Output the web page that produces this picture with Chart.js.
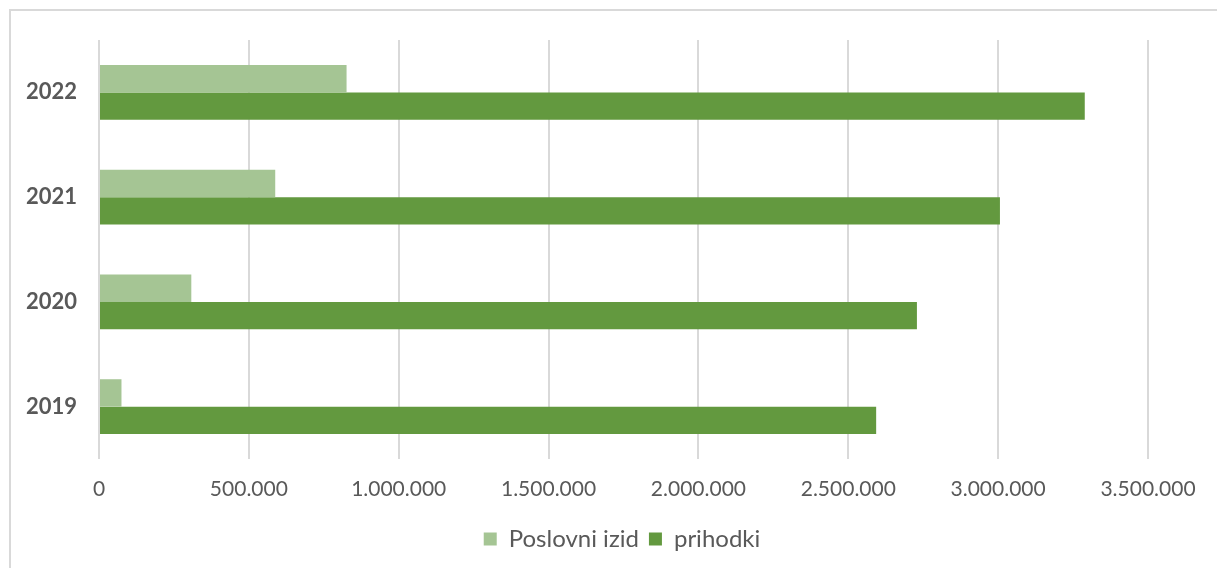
<!DOCTYPE html>
<html>
<head>
<meta charset="utf-8">
<script src="https://cdn.jsdelivr.net/npm/chart.js@4"></script>
<style>
    body { margin: 0; background: #fff; overflow: hidden; }
    #wrap { position: relative; width: 1217px; height: 568px; }
    #frame { position: absolute; left: 9px; top: 9px; width: 1300px; height: 700px;
             border-top: 2px solid #d9d9d9; border-left: 2px solid #d9d9d9; }
    #box { position: absolute; left: 0; top: 0; width: 1217px; height: 568px; }
</style>
</head>
<body>
<div id="wrap">
    <div id="frame"></div>
    <div id="box"><canvas id="chart"></canvas></div>
</div>
<script>
    // values
    const years = ['2019', '2020', '2021', '2022'];
    const poslovniIzid = [75000, 308000, 588000, 826000];
    const prihodki = [2593000, 2729000, 3006000, 3289000];

    const textColor = '#595959';
    const gridColor = '#d9d9d9';

    // 1234567 -> 1.234.567
    function formatNumber(v) {
        return String(Math.round(v)).replace(/\B(?=(\d{3})+(?!\d))/g, '.');
    }

    // legend is centred on the whole canvas, not on the padded box
    const legendShift = {
        id: 'legendShift',
        afterLayout(chart) {
            if (chart.legend) {
                chart.legend.left += 48;
                chart.legend.right += 48;
            }
        }
    };

    const ctx = document.getElementById('chart').getContext('2d');
    new Chart(ctx, {
        type: 'bar',
        data: {
            labels: years,
            datasets: [
                {
                    label: 'Poslovni izid',
                    data: poslovniIzid,
                    backgroundColor: '#a5c594',
                    barPercentage: 1,
                    categoryPercentage: 0.523
                },
                {
                    label: 'prihodki',
                    data: prihodki,
                    backgroundColor: '#63993f',
                    barPercentage: 1,
                    categoryPercentage: 0.523
                }
            ]
        },
        options: {
            indexAxis: 'y',
            responsive: true,
            maintainAspectRatio: false,
            animation: false,
            layout: { padding: { top: 40, right: 69, bottom: 7, left: 0 } },
            scales: {
                x: {
                    min: 0,
                    max: 3500000,
                    ticks: {
                        stepSize: 500000,
                        color: textColor,
                        padding: 18,
                        font: { family: 'Lato', size: 21 },
                        callback: v => formatNumber(v)
                    },
                    grid: { color: gridColor, lineWidth: 2, drawTicks: false },
                    border: { display: false },
                    afterFit: scale => { scale.height = 58; }
                },
                y: {
                    reverse: true,
                    ticks: {
                        color: textColor,
                        padding: 22,
                        font: { family: 'Lato', size: 22, weight: 'bold' }
                    },
                    grid: { display: false, drawTicks: false },
                    border: { display: false },
                    afterFit: scale => { scale.width = 99; }
                }
            },
            plugins: {
                legend: {
                    position: 'bottom',
                    labels: {
                        color: textColor,
                        boxWidth: 13,
                        boxHeight: 13,
                        padding: 10,
                        font: { family: 'Lato', size: 24 }
                    }
                },
                tooltip: { enabled: false }
            }
        },
        plugins: [legendShift]
    });
</script>
</body>
</html>
